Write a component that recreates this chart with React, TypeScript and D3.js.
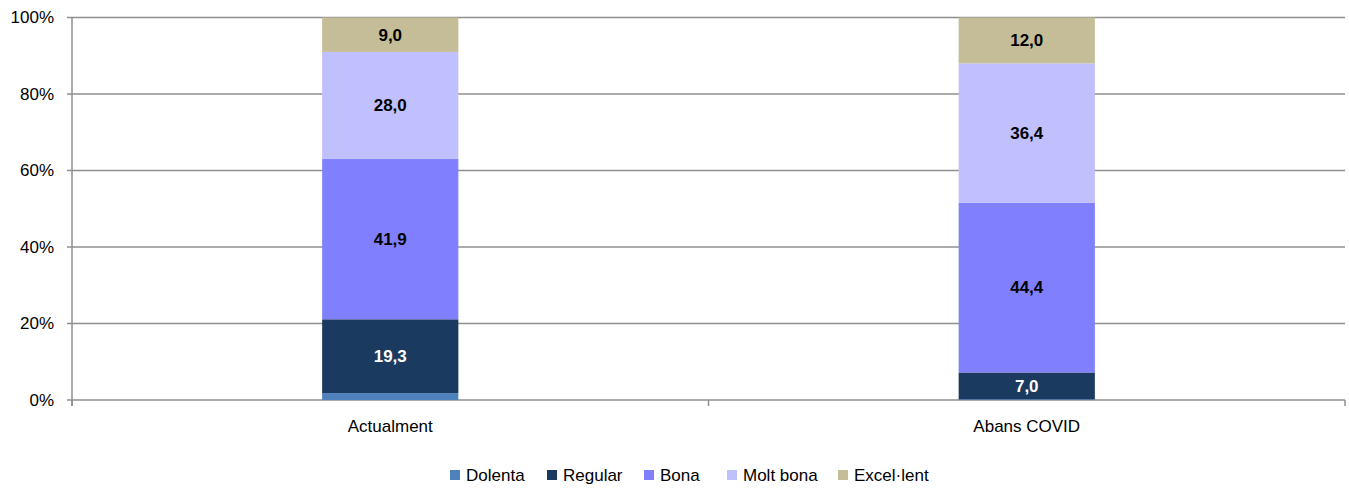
import React from "react";
import * as d3 from "d3";

const categories = ["Actualment", "Abans COVID"];
const seriesNames = ["Dolenta", "Regular", "Bona", "Molt bona", "Excel·lent"];
const dolenta = [1.8, 0.2];
const regular = [19.3, 7.0];
const bona = [41.9, 44.4];
const moltBona = [28.0, 36.4];
const excellent = [9.0, 12.0];
const yTicks = [0, 20, 40, 60, 80, 100];
const seriesColors = ["#4F81BD", "#1B3A5F", "#8080FF", "#C0C0FF", "#C4BD97"];
const labelColors = ["#ffffff", "#ffffff", "#000000", "#000000", "#000000"];
const showLabel = [false, true, true, true, true];

const W = 1349;
const H = 489;
const M = { left: 72, right: 4, top: 17.5, bottom: 89 };
const FONT = "'Liberation Sans Narrow', 'Arial Narrow', 'Liberation Sans', Arial, sans-serif";

export default function App() {
  const seriesValues = [dolenta, regular, bona, moltBona, excellent];
  const rows = categories.map((c, i) => {
    const r: Record<string, any> = { cat: c };
    seriesNames.forEach((s, j) => (r[s] = seriesValues[j][i]));
    return r;
  });
  const stacked = d3.stack().keys(seriesNames)(rows as any);

  const x = d3.scaleBand().domain(categories).range([M.left, W - M.right]).paddingInner(0).paddingOuter(0);
  const y = d3.scaleLinear().domain([0, 100]).range([H - M.bottom, M.top]);
  const barW = x.bandwidth() * 0.214;
  const gridColor = "#8f8f8f";
  const x0 = M.left;
  const x1 = W - M.right;

  const legendX = [450, 547, 644, 727, 838];

  return (
    <svg width={W} height={H} style={{ position: "absolute", left: 0, top: 0, background: "#fff" }}>
      {yTicks.map((t) => (
        <g key={t}>
          <line x1={x0 - 5} x2={x1} y1={y(t)} y2={y(t)} stroke={gridColor} strokeWidth={1.5} />
          <text x={54} y={y(t)} dy="0.35em" textAnchor="end" fontFamily={FONT} fontSize={17} fill="#000">
            {t}%
          </text>
        </g>
      ))}
      <line x1={x0} x2={x0} y1={y(100)} y2={y(0) + 6} stroke={gridColor} strokeWidth={1.5} />
      {[...categories.map((c) => x(c)!), x1].map((v, i) => (
        <line key={i} x1={v} x2={v} y1={y(0)} y2={y(0) + 6} stroke={gridColor} strokeWidth={1.5} />
      ))}
      {stacked.map((s, si) => (
        <g key={s.key}>
          {s.map((d, ci) => {
            const cx = x(categories[ci])! + x.bandwidth() / 2;
            const top = y(d[1]);
            const bot = y(d[0]);
            const v = seriesValues[si][ci];
            return (
              <g key={ci}>
                <rect x={cx - barW / 2} y={top} width={barW} height={bot - top} fill={seriesColors[si]} />
                {showLabel[si] && (
                  <text
                    x={cx}
                    y={(top + bot) / 2}
                    dy="0.35em"
                    textAnchor="middle"
                    fontFamily={FONT}
                    fontWeight="bold"
                    fontSize={17}
                    fill={labelColors[si]}
                  >
                    {d3.format(".1f")(v).replace(".", ",")}
                  </text>
                )}
              </g>
            );
          })}
        </g>
      ))}
      {categories.map((c) => (
        <text key={c} x={x(c)! + x.bandwidth() / 2} y={432} textAnchor="middle" fontFamily={FONT} fontSize={17} fill="#000">
          {c}
        </text>
      ))}
      {seriesNames.map((s, i) => (
        <g key={s} transform={`translate(${legendX[i]},${475})`}>
          <rect x={0} y={-5} width={10} height={10} fill={seriesColors[i]} />
          <text x={16} y={0} dy="0.35em" fontFamily={FONT} fontSize={17} fill="#000">
            {s}
          </text>
        </g>
      ))}
    </svg>
  );
}
